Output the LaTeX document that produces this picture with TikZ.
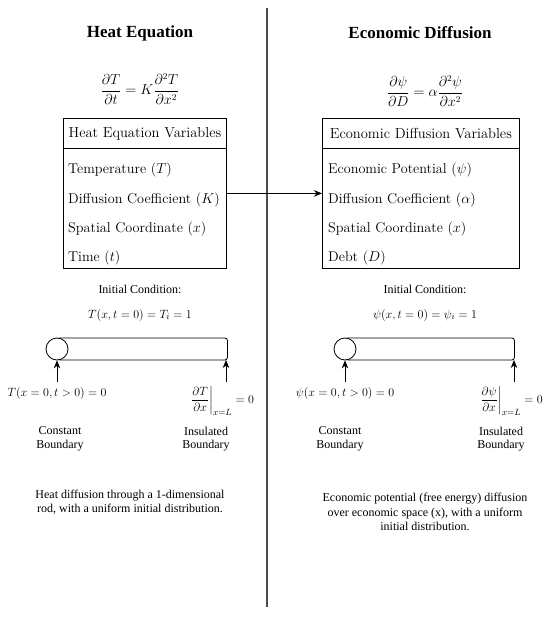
\documentclass[tikz,border=0pt]{standalone}
\usepackage{amsmath}
\usepackage{fontspec}
\newfontfamily\tms{Liberation Serif}
\usetikzlibrary{arrows.meta}
\begin{document}
\begin{tikzpicture}[x=1pt,y=1pt,
  ttl/.style={font=\tms\bfseries\fontsize{17}{20}\selectfont, inner sep=0pt},
  small/.style={font=\tms\fontsize{12}{13.5}\selectfont, align=center, inner sep=0pt},
  captxt/.style={font=\tms\fontsize{12}{14.5}\selectfont, align=center, inner sep=0pt},
  mth/.style={font=\fontsize{12.4}{14}\selectfont, inner sep=0pt},
  eqn/.style={font=\fontsize{13.5}{15}\selectfont, inner sep=0pt},
  hdr/.style={draw, line width=0.8pt, font=\fontsize{14.5}{16}\selectfont, minimum height=30pt, anchor=north west, inner sep=0pt},
  body/.style={draw, line width=0.8pt, minimum height=120pt, anchor=north west, inner sep=0pt},
  row/.style={font=\fontsize{14.2}{16}\selectfont, anchor=west, inner sep=0pt},
  rod/.style={draw, line width=0.8pt, minimum height=22pt, anchor=west, rounded corners=2.5pt, inner sep=0pt},
  endc/.style={draw, line width=0.8pt, circle, fill=white, minimum size=22pt, inner sep=0pt},
  arr/.style={-{Stealth[length=8pt,width=6.5pt]}, line width=0.8pt},
  divider/.style={line width=1.5pt, black!70},
]
\useasboundingbox (0,0) rectangle (550,-617);

% divider
\coordinate (dtop) at (267,-8);
\coordinate (dbot) at (267,-607);
\draw[divider] (dtop) -- (dbot);

% titles
\node[ttl] (t1) at (140,-33) {Heat Equation};
\node[ttl] (t2) at (420,-33) {Economic Diffusion};

% equations
\node[eqn] (e1) at (140,-89) {$\displaystyle\frac{\partial T}{\partial t}=K\frac{\partial^2 T}{\partial x^2}$};
\node[eqn] (e2) at (425,-91) {$\displaystyle\frac{\partial \psi}{\partial D}=\alpha\frac{\partial^2 \psi}{\partial x^2}$};

% left box
\node[hdr, minimum width=163pt] (lh) at (63,-118) {Heat Equation Variables};
\node[body, minimum width=163pt] (lb) at (63,-148) {};
\node[row] (l1) at (68,-170) {Temperature ($T$)};
\node[row] (l2) at (68,-200) {Diffusion Coefficient ($K$)};
\node[row] (l3) at (68,-229) {Spatial Coordinate ($x$)};
\node[row] (l4) at (68,-258) {Time ($t$)};

% right box
\node[hdr, minimum width=197pt] (rh) at (322,-118) {Economic Diffusion Variables};
\node[body, minimum width=197pt] (rb) at (322,-148) {};
\node[row] (r1) at (328,-170) {Economic Potential ($\psi$)};
\node[row] (r2) at (328,-200) {Diffusion Coefficient ($\alpha$)};
\node[row] (r3) at (328,-229) {Spatial Coordinate ($x$)};
\node[row] (r4) at (328,-258) {Debt ($D$)};

% connector
\draw[arr] ([yshift=15pt]lb.east) -- ([yshift=15pt]rb.west);

% initial conditions
\node[small] (ic1) at (140,-289) {Initial Condition:};
\node[small] (ic2) at (425,-289) {Initial Condition:};
\node[mth] (iv1) at (140,-315) {$T(x,t=0)=T_i=1$};
\node[mth] (iv2) at (425,-315) {$\psi(x,t=0)=\psi_i=1$};

% left rod
\node[rod, minimum width=170pt] (lrod) at (57,-349) {};
\node[endc] (lc) at (57,-349) {};
\coordinate (la1) at (57,-382);
\coordinate (la2) at (226,-382);
\coordinate (lre) at (226,-360);
\draw[arr] (la1) -- (lc.south);
\draw[arr] (la2) -- (lre);

% right rod
\node[rod, minimum width=169pt] (rrod) at (345,-349) {};
\node[endc] (rc) at (345,-349) {};
\coordinate (ra1) at (345,-382);
\coordinate (ra2) at (514,-382);
\coordinate (rre) at (514,-360);
\draw[arr] (ra1) -- (rc.south);
\draw[arr] (ra2) -- (rre);

% boundary labels
\node[mth] (lbc) at (57,-393) {$T(x=0,t>0)=0$};
\node[mth, anchor=north] (lbi) at (222,-386) {$\left.\dfrac{\partial T}{\partial x}\right|_{x=L}=0$};
\node[mth] (rbc) at (345,-393) {$\psi(x=0,t>0)=0$};
\node[mth, anchor=north] (rbi) at (511,-386) {$\left.\dfrac{\partial \psi}{\partial x}\right|_{x=L}=0$};

\node[small] (lcb) at (60,-439) {Constant\\Boundary};
\node[small] (lib) at (206,-439) {Insulated\\Boundary};
\node[small] (rcb) at (340,-439) {Constant\\Boundary};
\node[small] (rib) at (501,-439) {Insulated\\Boundary};

% captions
\node[captxt] (c1) at (130,-502) {Heat diffusion through a 1-dimensional\\rod, with a uniform initial distribution.};
\node[captxt] (c2) at (425,-512) {Economic potential (free energy) diffusion\\over economic space (x), with a uniform\\initial distribution.};
\end{tikzpicture}
\end{document}
